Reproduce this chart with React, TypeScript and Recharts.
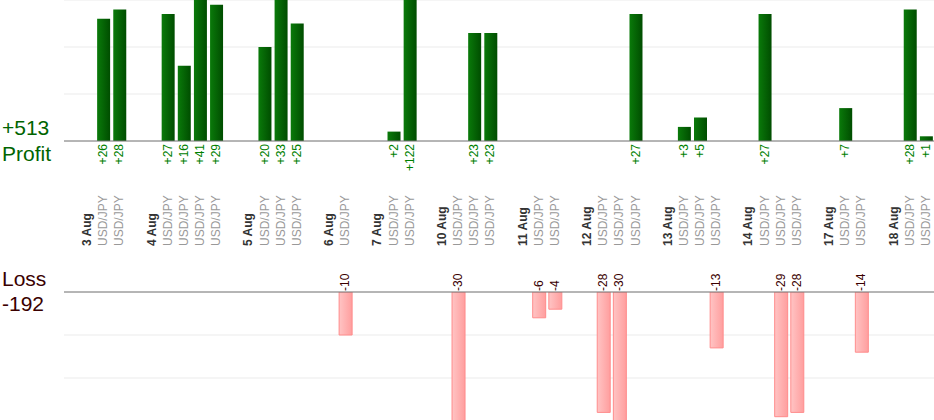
import React from 'react';
import { ComposedChart, Bar, XAxis, YAxis, CartesianGrid, ReferenceLine } from 'recharts';

const days = ['3 Aug', '4 Aug', '5 Aug', '6 Aug', '7 Aug', '10 Aug', '11 Aug', '12 Aug', '13 Aug', '14 Aug', '17 Aug', '18 Aug'];
const trades: number[][] = [
  [26, 28], [27, 16, 41, 29], [20, 33, 25], [-10], [2, 122], [-30, 23, 23],
  [-6, -4], [-28, -30, 27], [3, 5, -13], [27, -29, -28], [7, -14], [28, 1],
];
const pair = 'USD/JPY';
const totalProfit = '+513';
const totalLoss = '-192';

type Slot = { i: number; kind: 'day' | 'trade' | 'gap'; label?: string; profit?: number; loss?: number; val?: number };
const slots: Slot[] = [];
days.forEach((d, di) => {
  if (di > 0) slots.push({ i: slots.length, kind: 'gap' });
  slots.push({ i: slots.length, kind: 'day', label: d });
  trades[di].forEach(v => slots.push({
    i: slots.length, kind: 'trade', val: v,
    profit: v > 0 ? v : undefined, loss: v < 0 ? v : undefined,
  }));
});

const font = '"Liberation Sans", Arial, sans-serif';

const TopTick = ({ x, payload }: any) => {
  const s = slots[payload.value];
  if (!s || s.kind === 'gap') return null;
  if (s.kind === 'day') {
    return <text transform={`translate(${x + 4},246) rotate(-90)`} textAnchor="start" fontSize={12} fontWeight="bold" fill="#333" fontFamily={font}>{s.label}</text>;
  }
  return (
    <g>
      <text transform={`translate(${x + 4},246) rotate(-90)`} textAnchor="start" fontSize={12} fill="#999" fontFamily={font}>{pair}</text>
      {s.profit !== undefined && (
        <text transform={`translate(${x + 4},144) rotate(-90)`} textAnchor="end" fontSize={12} fill="#008000" fontFamily={font}>+{s.profit}</text>
      )}
    </g>
  );
};

const LossTick = ({ x, payload }: any) => {
  const s = slots[payload.value];
  if (!s || s.loss === undefined) return null;
  return <text transform={`translate(${x + 4},${291 - 230}) rotate(-90)`} textAnchor="start" fontSize={12} fill="#3a0000" fontFamily={font}>{s.loss}</text>;
};

export default function App() {
  return (
    <div style={{ position: 'absolute', left: 0, top: 0, width: 934, height: 420, overflow: 'hidden', background: '#fff', fontFamily: font }}>
      <svg width={0} height={0} style={{ position: 'absolute' }}>
        <defs>
          <linearGradient id="gGreen" x1="0" y1="0" x2="1" y2="0">
            <stop offset="0%" stopColor="#0a7a0a" />
            <stop offset="100%" stopColor="#004d00" />
          </linearGradient>
          <linearGradient id="gPink" x1="0" y1="0" x2="1" y2="0">
            <stop offset="0%" stopColor="#ffc4c4" />
            <stop offset="100%" stopColor="#ff9e9e" />
          </linearGradient>
        </defs>
      </svg>
      <div style={{ position: 'absolute', left: 0, top: 0 }}>
        <ComposedChart width={934} height={250} data={slots} margin={{ top: 0, right: 0, bottom: 0, left: 64 }} barSize={13}>
          <CartesianGrid vertical={false} stroke="#ebebeb" />
          <XAxis dataKey="i" type="category" interval={0} axisLine={false} tickLine={false} height={109} padding={{ left: 15, right: 0 }} tick={<TopTick />} />
          <YAxis hide domain={[0, 30]} ticks={[0, 10, 20, 30]} allowDataOverflow />
          <ReferenceLine y={0} stroke="#777" />
          <Bar dataKey="profit" fill="url(#gGreen)" isAnimationActive={false} />
        </ComposedChart>
      </div>
      <div style={{ position: 'absolute', left: 0, top: 230 }}>
        <ComposedChart width={934} height={191} data={slots} margin={{ top: 0, right: 0, bottom: 0, left: 64 }} barSize={13}>
          <CartesianGrid vertical={false} stroke="#ebebeb" />
          <XAxis dataKey="i" type="category" orientation="top" interval={0} axisLine={false} tickLine={false} height={62} padding={{ left: 15, right: 0 }} tick={<LossTick />} />
          <YAxis hide domain={[-30, 0]} ticks={[-30, -20, -10, 0]} allowDataOverflow />
          <ReferenceLine y={0} stroke="#777" />
          <Bar dataKey="loss" fill="url(#gPink)" stroke="#ff8c8c" isAnimationActive={false} />
        </ComposedChart>
      </div>
      <div style={{ position: 'absolute', left: 2, top: 116, fontSize: 21, color: '#006400' }}>{totalProfit}</div>
      <div style={{ position: 'absolute', left: 2, top: 142, fontSize: 21, color: '#006400' }}>Profit</div>
      <div style={{ position: 'absolute', left: 2, top: 267, fontSize: 21, color: '#3a0000' }}>Loss</div>
      <div style={{ position: 'absolute', left: 2, top: 292, fontSize: 21, color: '#3a0000' }}>{totalLoss}</div>
    </div>
  );
}
